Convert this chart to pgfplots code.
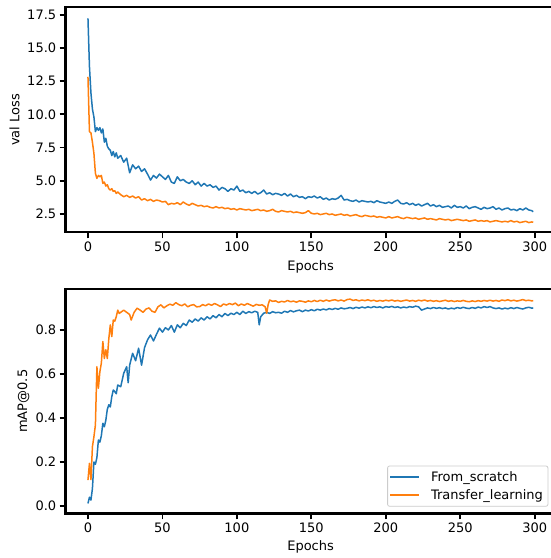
\documentclass[border=0pt]{standalone}
\usepackage{pgfplots}
\pgfplotsset{compat=1.18}
\usepackage{fontspec}
\setmainfont{DejaVu Sans}

\definecolor{mplblue}{HTML}{1F77B4}
\definecolor{mplorange}{HTML}{FF7F0E}

\pgfplotsset{
  mplstyle/.style={
    font=\fontsize{13bp}{15.5bp}\selectfont,
    scale only axis,
    width=489.8bp, height=225bp,
    xmin=-14.95, xmax=313.95,
    xtick={0,50,100,150,200,250,300},
    tick align=outside, xtick pos=bottom, ytick pos=left,
    major tick length=6bp,
    every tick/.style={line width=1.8bp, black},
    axis line style={line width=2.4bp},
    /pgf/number format/assume math mode=true,
    xlabel={Epochs},
    every axis plot/.append style={line width=1.5bp, mark=none, line join=round},
  },
}

\begin{document}
\begin{tikzpicture}
\useasboundingbox (0,0) rectangle (551bp,558bp);

% ---- top: validation loss ----
\begin{axis}[mplstyle,
  at={(65.7bp,325.7bp)}, anchor=south west,
  ymin=1.12, ymax=18.06,
  ytick={2.5,5,7.5,10,12.5,15,17.5},
  yticklabel style={/pgf/number format/.cd, fixed, fixed zerofill, precision=1},
  ylabel={val Loss},
  ylabel style={at={(axis description cs:-0.1045,0.5)}, anchor=center},
  xlabel style={at={(axis description cs:0.5,-0.1542)}, anchor=center},
]
\addplot[mplblue] coordinates {
(0,17.23)(1,13.6)(2,11.6)(3,10.4)(4,9.8)(5,8.7)(6,9.0)(7,8.8)(8,9.0)(9,8.6)(10,8.9)
(11,7.9)(12,8.2)(13,7.6)(14,7.4)(15,7.3)(16,6.9)(17,7.2)(18,6.8)(19,7.1)(20,6.7)
(22,6.9)(24,6.4)(26,6.7)(28,5.6)(30,6.2)(32,5.9)(34,6.1)(36,5.7)(38,5.9)(40,5.5)
(42,5.05)(44,5.4)(46,5.2)(48,5.5)(50,5.3)(52,5.1)(54,5.4)(56,4.9)(58,4.8)(60,5.3)
(62,5.0)(64,5.1)(66,4.9)(68,4.8)(70,5.0)(72,4.7)(74,4.9)(76,4.6)(78,4.8)(80,4.6)
(82,4.7)(84,4.5)(86,4.6)(88,4.3)(90,4.5)(92,4.4)(94,4.2)(96,4.4)(98,4.3)(100,4.6)
(102,4.2)(104,4.3)(106,4.1)(108,4.2)(110,4.05)(112,4.2)(114,4.0)(116,4.1)(118,4.3)(120,4.0)
(122,4.1)(124,3.95)(126,4.05)(128,4.0)(130,3.9)(132,4.05)(134,3.85)(136,4.0)(138,3.8)(140,3.9)
(142,3.75)(144,3.8)(146,3.65)(148,3.8)(150,3.75)(152,3.85)(154,3.7)(156,3.8)(158,3.6)(160,3.7)
(162,3.55)(164,3.65)(166,3.6)(168,3.7)(170,3.9)(172,3.55)(174,3.6)(176,3.5)(178,3.45)(180,3.55)
(182,3.4)(184,3.5)(186,3.45)(188,3.4)(190,3.45)(192,3.35)(194,3.5)(196,3.4)(198,3.35)(200,3.3)
(202,3.4)(204,3.3)(206,3.45)(208,3.55)(210,3.3)(212,3.25)(214,3.35)(216,3.2)(218,3.3)(220,3.15)
(222,3.25)(224,3.1)(226,3.2)(228,3.3)(230,3.1)(232,3.2)(234,3.05)(236,3.15)(238,3.0)(240,3.05)
(242,3.1)(244,2.95)(246,3.15)(248,3.0)(250,3.05)(252,2.95)(254,3.1)(256,2.9)(258,3.0)(260,3.05)
(262,2.95)(264,2.85)(266,3.0)(268,2.9)(270,2.95)(272,3.05)(274,2.85)(276,2.95)(278,2.8)(280,2.9)
(282,2.95)(284,2.8)(286,2.85)(288,2.75)(290,2.9)(292,2.8)(294,2.95)(296,2.8)(298,2.75)(299,2.67)
};
\addplot[mplorange] coordinates {
(0,12.83)(1,8.7)(2,8.6)(3,7.9)(4,7.06)(5,5.56)(6,5.18)(7,5.4)(8,5.3)(9,5.4)(10,4.8)
(11,4.9)(12,4.6)(13,4.7)(14,4.4)(15,4.3)(16,4.4)(17,4.2)(18,4.25)(19,4.05)(20,4.15)
(22,3.95)(24,3.8)(26,3.9)(28,3.75)(30,3.85)(32,3.7)(34,3.8)(36,3.55)(38,3.65)(40,3.5)
(42,3.6)(44,3.45)(46,3.55)(48,3.5)(50,3.4)(52,3.45)(54,3.2)(56,3.3)(58,3.25)(60,3.35)
(62,3.2)(64,3.4)(66,3.25)(68,3.15)(70,3.3)(72,3.2)(74,3.1)(76,3.15)(78,3.05)(80,3.1)
(82,3.0)(84,2.95)(86,3.05)(88,2.95)(90,3.0)(92,2.9)(94,2.95)(96,2.85)(98,2.9)(100,2.8)
(102,2.9)(104,2.85)(106,2.8)(108,2.85)(110,2.75)(112,2.8)(114,2.85)(116,2.75)(118,2.8)(120,2.7)
(122,2.75)(124,2.85)(126,2.7)(128,2.65)(130,2.75)(132,2.7)(134,2.65)(136,2.7)(138,2.6)(140,2.65)
(142,2.6)(144,2.55)(146,2.6)(148,2.75)(150,2.55)(152,2.5)(154,2.55)(156,2.45)(158,2.5)(160,2.55)
(162,2.45)(164,2.5)(166,2.4)(168,2.45)(170,2.5)(172,2.4)(174,2.45)(176,2.35)(178,2.4)(180,2.45)
(182,2.35)(184,2.3)(186,2.4)(188,2.35)(190,2.3)(192,2.35)(194,2.25)(196,2.3)(198,2.25)(200,2.2)
(202,2.3)(204,2.2)(206,2.25)(208,2.3)(210,2.2)(212,2.15)(214,2.25)(216,2.2)(218,2.15)(220,2.2)
(222,2.1)(224,2.15)(226,2.2)(228,2.1)(230,2.15)(232,2.1)(234,2.05)(236,2.15)(238,2.1)(240,2.05)
(242,2.1)(244,2.0)(246,2.05)(248,2.1)(250,2.05)(252,2.0)(254,2.05)(256,1.95)(258,2.0)(260,2.05)
(262,1.95)(264,2.0)(266,1.95)(268,2.0)(270,1.9)(272,1.95)(274,2.0)(276,1.95)(278,1.9)(280,1.95)
(282,1.9)(284,2.0)(286,1.9)(288,1.95)(290,1.85)(292,1.9)(294,1.95)(296,1.85)(298,1.9)(299,1.88)
};
\end{axis}

% ---- bottom: mAP@0.5 ----
\begin{axis}[mplstyle,
  at={(65.7bp,44.7bp)}, anchor=south west,
  height=224.3bp,
  ymin=-0.033, ymax=0.986,
  ytick={0,0.2,0.4,0.6,0.8},
  yticklabel style={/pgf/number format/.cd, fixed, fixed zerofill, precision=1},
  ylabel={mAP@0.5},
  ylabel style={at={(axis description cs:-0.0862,0.5)}, anchor=center},
  xlabel style={at={(axis description cs:0.5,-0.150)}, anchor=center},
  legend style={at={(axis description cs:0.9853,0.0294)}, anchor=south east,
    draw=black!20, line width=0.8bp, rounded corners=2bp, fill=white,
    fill opacity=0.8, text opacity=1, inner sep=2bp, row sep=0bp,
    nodes={inner xsep=3bp, inner ysep=3.4bp},
    /tikz/every odd column/.append style={column sep=8bp}},
  legend cell align=left,
]
\addplot[mplblue, legend image code/.code={\draw[mplblue, line width=1.5bp] (0bp,0bp) -- (29bp,0bp);}] coordinates {
(0,0.012)(1,0.04)(2,0.027)(3,0.08)(4,0.2)(5,0.19)(6,0.22)(7,0.3)(8,0.29)(9,0.32)(10,0.376)
(11,0.36)(12,0.39)(13,0.44)(14,0.46)(15,0.45)(16,0.497)(17,0.527)(18,0.52)(19,0.51)(20,0.55)
(22,0.542)(24,0.603)(26,0.633)(27,0.56)(28,0.64)(30,0.694)(32,0.66)(34,0.717)(36,0.64)(38,0.72)
(40,0.755)(42,0.777)(44,0.75)(46,0.78)(48,0.808)(50,0.79)(52,0.81)(54,0.8)(56,0.82)(58,0.79)
(60,0.823)(62,0.81)(64,0.83)(66,0.82)(68,0.845)(70,0.835)(72,0.85)(74,0.84)(76,0.855)(78,0.845)
(80,0.86)(82,0.85)(84,0.865)(86,0.855)(88,0.87)(90,0.86)(92,0.875)(94,0.865)(96,0.876)(98,0.87)
(100,0.88)(102,0.87)(104,0.885)(106,0.875)(108,0.883)(110,0.878)(112,0.885)(114,0.88)(115,0.823)(116,0.86)
(118,0.876)(120,0.88)(122,0.875)(124,0.883)(126,0.878)(128,0.88)(130,0.876)(132,0.885)(134,0.88)(136,0.888)
(138,0.882)(140,0.887)(142,0.89)(144,0.883)(146,0.89)(148,0.886)(150,0.892)(152,0.887)(154,0.894)(156,0.89)
(158,0.895)(160,0.891)(162,0.897)(164,0.893)(166,0.898)(168,0.894)(170,0.9)(172,0.896)(174,0.898)(176,0.902)
(178,0.897)(180,0.903)(182,0.899)(184,0.904)(186,0.9)(188,0.905)(190,0.901)(192,0.906)(194,0.902)(196,0.905)
(198,0.9)(200,0.906)(202,0.903)(204,0.907)(206,0.902)(208,0.905)(210,0.9)(212,0.904)(214,0.901)(216,0.906)
(218,0.903)(220,0.908)(222,0.905)(224,0.89)(226,0.895)(228,0.9)(230,0.897)(232,0.902)(234,0.898)(236,0.901)
(238,0.897)(240,0.9)(242,0.895)(244,0.899)(246,0.896)(248,0.902)(250,0.898)(252,0.903)(254,0.899)(256,0.897)
(258,0.902)(260,0.898)(262,0.904)(264,0.9)(266,0.906)(268,0.902)(270,0.906)(272,0.9)(274,0.897)(276,0.9)
(278,0.895)(280,0.899)(282,0.896)(284,0.901)(286,0.897)(288,0.902)(290,0.898)(292,0.895)(294,0.9)(296,0.903)
(298,0.899)(299,0.9)
};
\addlegendentry{From\_scratch}
\addplot[mplorange, legend image code/.code={\draw[mplorange, line width=1.5bp] (0bp,0bp) -- (29bp,0bp);}] coordinates {
(0,0.118)(1,0.194)(2,0.12)(3,0.27)(4,0.315)(5,0.368)(6,0.633)(7,0.535)(8,0.61)(9,0.65)(10,0.747)
(11,0.67)(12,0.71)(13,0.67)(14,0.76)(15,0.823)(16,0.77)(17,0.845)(18,0.84)(19,0.86)(20,0.89)
(21,0.875)(22,0.88)(24,0.89)(26,0.88)(28,0.87)(29,0.845)(31,0.88)(33,0.899)(35,0.89)(37,0.88)
(39,0.895)(41,0.9)(43,0.885)(45,0.88)(47,0.905)(49,0.914)(51,0.9)(53,0.91)(55,0.917)(57,0.912)
(59,0.924)(61,0.915)(63,0.91)(65,0.918)(67,0.905)(69,0.912)(71,0.915)(73,0.905)(75,0.906)(77,0.915)
(79,0.91)(81,0.918)(83,0.912)(85,0.92)(87,0.914)(89,0.906)(91,0.918)(93,0.913)(95,0.92)(97,0.915)
(99,0.922)(101,0.91)(103,0.918)(105,0.912)(107,0.92)(109,0.914)(111,0.908)(113,0.916)(115,0.912)(117,0.914)
(119,0.905)(120,0.876)(121,0.915)(122,0.936)(124,0.93)(126,0.932)(128,0.925)(130,0.93)(132,0.927)(134,0.934)
(136,0.928)(138,0.931)(140,0.926)(142,0.932)(144,0.93)(146,0.926)(148,0.932)(150,0.928)(152,0.934)(154,0.929)
(156,0.935)(158,0.93)(160,0.936)(162,0.931)(164,0.935)(166,0.937)(168,0.932)(170,0.936)(172,0.931)(174,0.938)
(176,0.94)(178,0.934)(180,0.937)(182,0.932)(184,0.936)(186,0.933)(188,0.937)(190,0.932)(192,0.935)(194,0.93)
(196,0.934)(198,0.931)(200,0.935)(202,0.932)(204,0.936)(206,0.931)(208,0.934)(210,0.93)(212,0.933)(214,0.936)
(216,0.931)(218,0.934)(220,0.93)(222,0.935)(224,0.932)(226,0.936)(228,0.931)(230,0.934)(232,0.93)(234,0.933)
(236,0.929)(238,0.932)(240,0.935)(242,0.93)(244,0.933)(246,0.929)(248,0.932)(250,0.93)(252,0.934)(254,0.93)
(256,0.928)(258,0.932)(260,0.929)(262,0.933)(264,0.93)(266,0.934)(268,0.931)(270,0.935)(272,0.931)(274,0.934)
(276,0.93)(278,0.936)(280,0.933)(282,0.937)(284,0.932)(286,0.935)(288,0.931)(290,0.934)(292,0.938)(294,0.933)
(296,0.935)(298,0.932)(299,0.933)
};
\addlegendentry{Transfer\_learning}
\end{axis}
\end{tikzpicture}
\end{document}
